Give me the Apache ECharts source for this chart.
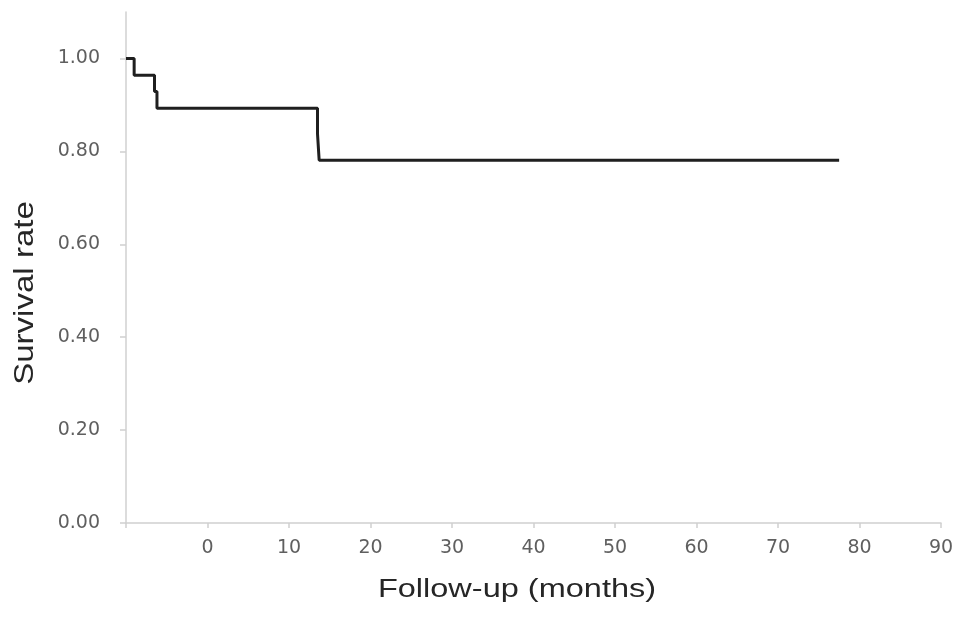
<!DOCTYPE html>
<html>
<head>
<meta charset="utf-8">
<script src="https://cdn.jsdelivr.net/npm/echarts@6/dist/echarts.min.js"></script>
<style>html,body{margin:0;padding:0;background:#fff;}#c{width:969px;height:618px;}</style>
</head>
<body>
<div id="c"></div>
<script>
// Kaplan-Meier step points (time in months, survival rate)
const times = [-10, -9.0, -6.5, -6.2, 13.5, 13.7, 77.5];
const survival = [1.0, 0.964, 0.929, 0.893, 0.837, 0.781, 0.781];
const xTickValues = [-10, 0, 10, 20, 30, 40, 50, 60, 70, 80, 90];
const xLabelValues = [0, 10, 20, 30, 40, 50, 60, 70, 80, 90];
const yTickValues = [0, 0.2, 0.4, 0.6, 0.8, 1.0];
const xTitle = 'Follow-up (months)';
const yTitle = 'Survival rate';

const chart = echarts.init(document.getElementById('c'), null, {renderer: 'canvas'});
const axisColor = '#d0d0d0';
const labelStyle = {color: '#5f5f5f', fontFamily: 'DejaVu Sans', fontSize: 19};
chart.setOption({
  animation: false,
  backgroundColor: '#ffffff',
  grid: {left: 126, right: 28, top: 12, bottom: 95, containLabel: false, outerBoundsMode: 'none'},
  xAxis: {
    type: 'value', min: -10, max: 90, interval: 10,
    splitLine: {show: false},
    axisLine: {show: true, onZero: false, lineStyle: {color: axisColor, width: 1.5}},
    axisTick: {show: true, length: 5, customValues: xTickValues, lineStyle: {color: axisColor, width: 1.5}},
    axisLabel: Object.assign({margin: 16, customValues: xLabelValues}, labelStyle)
  },
  yAxis: {
    type: 'value', min: 0, max: 1.1, interval: 0.2,
    splitLine: {show: false},
    axisLine: {show: true, onZero: false, lineStyle: {color: axisColor, width: 1.5}},
    axisTick: {show: true, length: 6, customValues: yTickValues, lineStyle: {color: axisColor, width: 1.5}},
    axisLabel: Object.assign({margin: 26, customValues: yTickValues, formatter: v => v.toFixed(2)}, labelStyle)
  },
  series: [{
    type: 'line',
    step: 'end',
    showSymbol: false,
    symbol: 'none',
    lineStyle: {color: '#1f1f1f', width: 3},
    data: times.map((t, i) => [t, survival[i]])
  }],
  graphic: [
    {type: 'text', x: 517, y: 590, scaleX: 1.3, scaleY: 1,
     style: {text: xTitle, fill: '#262626', font: '25px "Liberation Sans", Arial, sans-serif', align: 'center', verticalAlign: 'middle'}},
    {type: 'text', x: 25, y: 293, rotation: Math.PI / 2, scaleX: 1.18, scaleY: 1,
     style: {text: yTitle, fill: '#262626', font: '28px "Liberation Sans", Arial, sans-serif', align: 'center', verticalAlign: 'middle'}}
  ]
});
</script>
</body>
</html>
